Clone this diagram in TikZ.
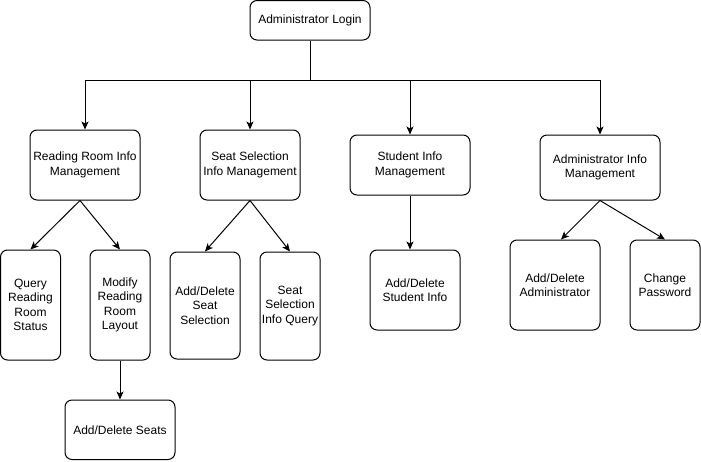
\documentclass[tikz,border=0pt]{standalone}
\usepackage{fontspec}
\setmainfont{Liberation Sans}
\usetikzlibrary{arrows.meta}
\begin{document}
\begin{tikzpicture}[x=1pt,y=-1pt,
  box/.style={draw,line width=1pt,rounded corners=7pt,align=center,inner sep=0pt,
    font=\fontsize{12}{14.5}\selectfont},
  arr/.style={line width=1pt,-{Stealth[length=8pt,width=7pt,inset=2pt]}},
  ln/.style={line width=1pt}]
\useasboundingbox (0,0) rectangle (701,461);
\node[box,minimum width=120pt,minimum height=39.5pt] (login) at (310,20.25) {Administrator Login};
\node[box,minimum width=110pt,minimum height=70pt] (rr) at (85,165) {Reading Room Info\\Management};
\node[box,minimum width=100pt,minimum height=70pt] (ss) at (250,165) {Seat Selection\\Info Management};
\node[box,minimum width=120pt,minimum height=60pt] (si) at (410,165) {Student Info\\Management};
\node[box,minimum width=120pt,minimum height=65pt] (ai) at (600,167.5) {Administrator Info\\Management};
\node[box,minimum width=60pt,minimum height=110pt] (q) at (30.5,305) {Query\\Reading\\Room\\Status};
\node[box,minimum width=60pt,minimum height=110pt] (mod) at (120,305) {Modify\\Reading\\Room\\Layout};
\node[box,minimum width=70pt,minimum height=107pt] (asel) at (205,305.5) {Add/Delete\\Seat\\Selection};
\node[box,minimum width=60pt,minimum height=108pt] (ssq) at (290,306) {Seat\\Selection\\Info Query};
\node[box,minimum width=110pt,minimum height=59.5pt] (seats) at (120,429.75) {Add/Delete Seats};
\node[box,minimum width=90pt,minimum height=80pt] (asi) at (415,290) {Add/Delete\\Student Info};
\node[box,minimum width=90pt,minimum height=90pt] (aa) at (555,285) {Add/Delete\\Administrator};
\node[box,minimum width=70pt,minimum height=90pt] (cp) at (665,285) {Change\\Password};
\coordinate (bus) at (310,80);
\draw[ln] (login) -- (bus);
\draw[arr] (bus) -| (rr.north);
\draw[arr] (bus) -| (ss.north);
\draw[arr] (bus) -| (si.north);
\draw[arr] (bus) -| (ai.north);
\draw[arr] ([xshift=-5pt]rr.south) -- (q.north);
\draw[arr] ([xshift=-5pt]rr.south) -- (mod.north);
\draw[arr] (ss.south) -- (asel.north);
\draw[arr] (ss.south) -- (ssq.north);
\draw[arr] (si.south) -- (si.south |- asi.north);
\draw[arr] (ai.south) -- ([xshift=6pt]aa.north);
\draw[arr] (ai.south) -- (cp.north);
\draw[arr] (mod.south) -- (seats.north);
\end{tikzpicture}
\end{document}
